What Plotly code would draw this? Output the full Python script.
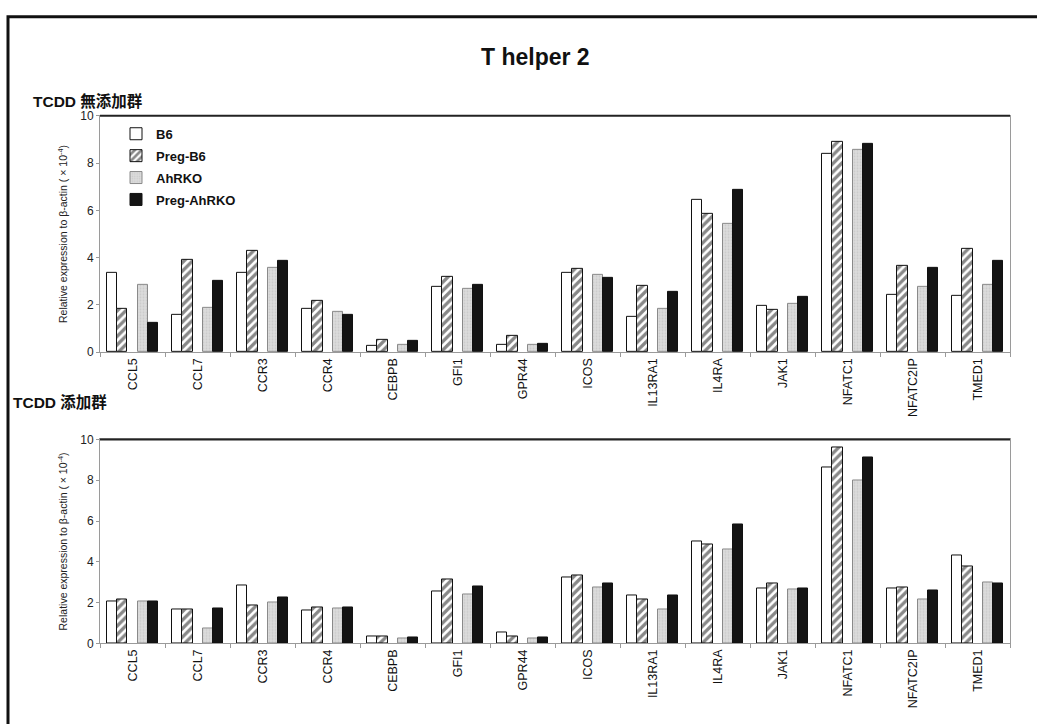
import plotly.graph_objects as go

# Genes measured in Th2 cells
genes = ["CCL5", "CCL7", "CCR3", "CCR4", "CEBPB", "GFI1", "GPR44", "ICOS",
         "IL13RA1", "IL4RA", "JAK1", "NFATC1", "NFATC2IP", "TMED1"]

groups = ["B6", "Preg-B6", "AhRKO", "Preg-AhRKO"]

# Relative expression to beta-actin (x 10^-4), TCDD not added
no_tcdd_b6 = [3.36, 1.60, 3.35, 1.85, 0.28, 2.78, 0.30, 3.35, 1.49, 6.44, 1.96, 8.41, 2.43, 2.38]
no_tcdd_preg_b6 = [1.85, 3.89, 4.30, 2.17, 0.53, 3.18, 0.69, 3.51, 2.82, 5.86, 1.80, 8.91, 3.65, 4.37]
no_tcdd_ahrko = [2.85, 1.87, 3.57, 1.70, 0.33, 2.68, 0.32, 3.27, 1.83, 5.45, 2.06, 8.58, 2.77, 2.85]
no_tcdd_preg_ahrko = [1.23, 3.02, 3.85, 1.60, 0.47, 2.86, 0.37, 3.15, 2.54, 6.86, 2.35, 8.83, 3.57, 3.86]

# Relative expression to beta-actin (x 10^-4), TCDD added
tcdd_b6 = [2.07, 1.67, 2.85, 1.63, 0.35, 2.55, 0.53, 3.24, 2.37, 5.00, 2.69, 8.62, 2.69, 4.33]
tcdd_preg_b6 = [2.18, 1.67, 1.87, 1.78, 0.35, 3.13, 0.35, 3.32, 2.15, 4.84, 2.93, 9.62, 2.76, 3.75]
tcdd_ahrko = [2.05, 0.72, 1.99, 1.70, 0.24, 2.42, 0.24, 2.76, 1.65, 4.63, 2.64, 8.00, 2.16, 3.01]
tcdd_preg_ahrko = [2.07, 1.73, 2.24, 1.75, 0.27, 2.80, 0.27, 2.96, 2.36, 5.83, 2.71, 9.10, 2.58, 2.95]

y_ticks = [0, 2, 4, 6, 8, 10]

W, H = 1037, 724
FONT = "Liberation Sans, Arial, Noto Sans CJK JP, sans-serif"


def px_x(v):
    return v / W


def px_y(v):
    return 1 - v / H


# bar styling per group: two adjacent pairs with a gap between them
bar_w = 0.154
styles = {
    "B6": dict(offset=-0.385, marker=dict(color="white", line=dict(color="#111", width=1))),
    "Preg-B6": dict(offset=-0.231, marker=dict(color="white", line=dict(color="#111", width=1),
                                              pattern=dict(shape="/", fgcolor="#111", bgcolor="white",
                                                           size=6, solidity=0.55))),
    "AhRKO": dict(offset=0.077, marker=dict(color="#d2d2d2", line=dict(color="#8a8a8a", width=1),
                                            pattern=dict(shape=".", fgcolor="#b8b8b8", bgcolor="#dcdcdc",
                                                         size=3, solidity=0.3))),
    "Preg-AhRKO": dict(offset=0.231, marker=dict(color="#141414", line=dict(color="#111", width=1))),
}

fig = go.Figure()

panels = [
    ("x", "y", [no_tcdd_b6, no_tcdd_preg_b6, no_tcdd_ahrko, no_tcdd_preg_ahrko], True),
    ("x2", "y2", [tcdd_b6, tcdd_preg_b6, tcdd_ahrko, tcdd_preg_ahrko], False),
]
for xa, ya, series, show in panels:
    for name, vals in zip(groups, series):
        st = styles[name]
        fig.add_trace(go.Bar(
            x=genes, y=vals, name="<b>" + name + "</b>", xaxis=xa, yaxis=ya,
            offset=st["offset"], width=bar_w, marker=st["marker"],
            showlegend=show, legendgroup=name,
        ))

x_dom = [px_x(100), px_x(1010)]
axis_common = dict(showgrid=False, zeroline=False, showline=True, linecolor="#9a9a9a",
                   linewidth=1, mirror=True)
xcommon = dict(axis_common, type="category", tickson="boundaries", ticks="outside", ticklen=4,
               tickcolor="#9a9a9a", tickangle=-90,
               tickfont=dict(family=FONT, size=12.5, color="#111"), range=[-0.5, 13.5])
ycommon = dict(axis_common, range=[0, 10], tickvals=y_ticks, ticks="outside", ticklen=3,
               tickcolor="#9a9a9a", tickfont=dict(family=FONT, size=12, color="#222"),
               title=dict(text="Relative expression to β-actin ( × 10<sup>-4</sup>)",
                          font=dict(family=FONT, size=10.5, color="#222"), standoff=10))

fig.update_layout(
    width=W, height=H, autosize=False,
    margin=dict(l=0, r=0, t=0, b=0),
    paper_bgcolor="white", plot_bgcolor="white",
    barmode="overlay", bargap=0,
    xaxis=dict(xcommon, domain=x_dom, anchor="y"),
    yaxis=dict(ycommon, domain=[px_y(352), px_y(111)], anchor="x"),
    xaxis2=dict(xcommon, domain=x_dom, anchor="y2"),
    yaxis2=dict(ycommon, domain=[px_y(649), px_y(441)], anchor="x2"),
    legend=dict(x=px_x(116), y=px_y(114), xanchor="left", yanchor="top",
                bgcolor="rgba(0,0,0,0)", font=dict(family=FONT, size=13, color="#111"),
                itemwidth=30, tracegroupgap=2),
    showlegend=True,
)

# titles
fig.add_annotation(text="<b>T helper 2</b>", x=px_x(535), y=px_y(51), xref="paper", yref="paper",
                   xanchor="center", yanchor="middle", showarrow=False,
                   font=dict(family=FONT, size=23, color="#111"))
fig.add_annotation(text="<b>TCDD 無添加群</b>", x=px_x(31), y=px_y(96), xref="paper", yref="paper",
                   xanchor="left", yanchor="middle", showarrow=False,
                   font=dict(family=FONT, size=15.5, color="#111"))
fig.add_annotation(text="<b>TCDD 添加群</b>", x=px_x(11), y=px_y(403), xref="paper", yref="paper",
                   xanchor="left", yanchor="middle", showarrow=False,
                   font=dict(family=FONT, size=15.5, color="#111"))

# darker top edge of each plot frame
for top in (111, 441):
    fig.add_shape(type="line", xref="paper", yref="paper", x0=x_dom[0], x1=x_dom[1],
                  y0=px_y(top), y1=px_y(top), line=dict(color="#222", width=2))

# outer frame
fig.add_shape(type="rect", xref="paper", yref="paper", x0=px_x(8), y0=px_y(10),
              x1=px_x(1060), y1=px_y(760), line=dict(color="#111", width=3))

fig.write_html("out.html")
